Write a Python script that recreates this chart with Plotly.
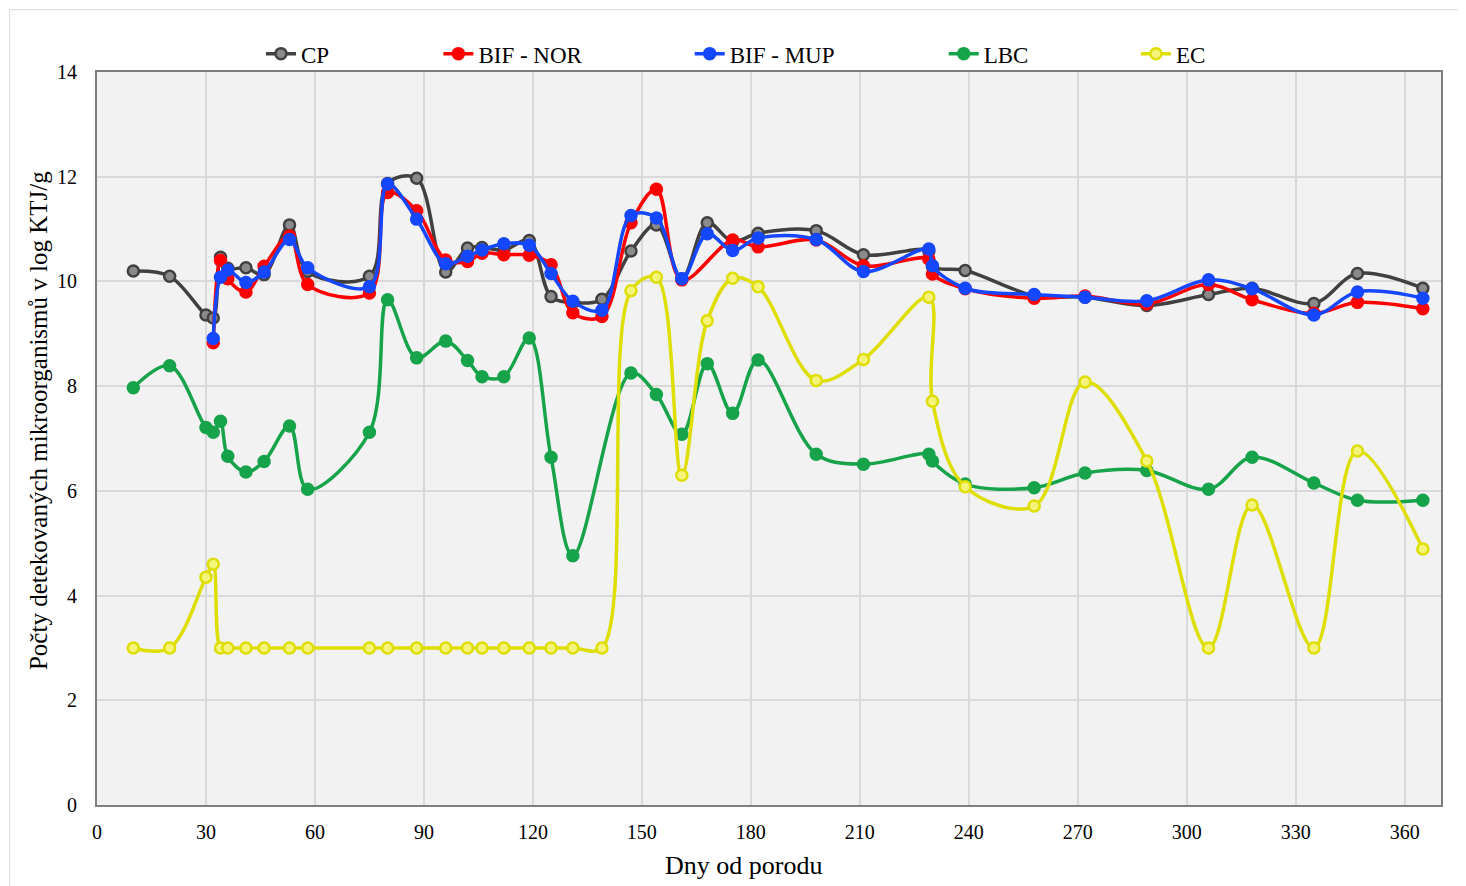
import plotly.graph_objects as go

days = [10, 20, 30, 32, 34, 36, 41, 46, 53, 58, 75, 80, 88, 96, 102, 106, 112, 119, 125, 131,
        139, 147, 154, 161, 168, 175, 182, 198, 211, 229, 230, 239, 258, 272, 289, 306, 318,
        335, 347, 365]

cp = [10.2, 10.1, 9.36, 9.3, 10.46, 10.25, 10.26, 10.13, 11.08, 10.19, 10.1, 11.87, 11.97, 10.18,
      10.64, 10.65, 10.6, 10.78, 9.71, 9.6, 9.66, 10.58, 11.08, 10.05, 11.12, 10.76, 10.92,
      10.97, 10.51, 10.58, 10.28, 10.21, 9.73, 9.7, 9.54, 9.75, 9.87, 9.58, 10.15, 9.87]

bif_nor = [None, None, None, 8.83, 10.4, 10.05, 9.8, 10.29, 10.87, 9.94, 9.78, 11.7, 11.35, 10.41,
           10.38, 10.54, 10.51, 10.5, 10.32, 9.4, 9.33, 11.12, 11.76, 10.03, None, 10.79, 10.66,
           10.79, 10.3, 10.43, 10.14, 9.86, 9.68, 9.72, 9.57, 9.94, 9.65, 9.39, 9.6, 9.48]

bif_mup = [None, None, None, 8.91, 10.08, 10.22, 9.98, 10.18, 10.8, 10.26, 9.9, 11.86, 11.19, 10.34,
           10.48, 10.6, 10.72, 10.69, 10.15, 9.62, 9.45, 11.26, 11.21, 10.05, 10.91, 10.59, 10.83,
           10.8, 10.19, 10.62, 10.3, 9.87, 9.75, 9.7, 9.63, 10.03, 9.86, 9.36, 9.8, 9.68]

lbc = [7.97, 8.39, 7.21, 7.12, 7.33, 6.66, 6.36, 6.56, 7.24, 6.03, 7.12, 9.65, 8.54, 8.86,
       8.49, 8.18, 8.18, 8.92, 6.64, 4.76, None, 8.25, 7.84, 7.08, 8.43, 7.48, 8.5,
       6.7, 6.51, 6.7, 6.57, 6.13, 6.06, 6.34, 6.39, 6.03, 6.64, 6.15, 5.82, 5.82]

ec = [3.0, 3.0, 4.35, 4.6, 3.0, 3.0, 3.0, 3.0, 3.0, 3.0, 3.0, 3.0, 3.0, 3.0,
      3.0, 3.0, 3.0, 3.0, 3.0, 3.0, 3.0, 9.82, 10.08, 6.3, 9.25, 10.06, 9.9,
      8.11, 8.51, 9.7, 7.71, 6.08, 5.71, 8.08, 6.57, 3.0, 5.73, 3.0, 6.76, 4.89]

series = [
    ("CP", cp, "#404040", "#8a8a8a"),
    ("BIF - NOR", bif_nor, "#ff0000", "#ff0000"),
    ("BIF - MUP", bif_mup, "#1447ff", "#1447ff"),
    ("LBC", lbc, "#16a34a", "#16a34a"),
    ("EC", ec, "#dede00", "#f4f47a"),
]
legend_x = [0.122, 0.254, 0.441, 0.630, 0.773]

font_family = "Liberation Serif, Times New Roman, serif"

fig = go.Figure()
legend_layout = {}
for i, ((name, vals, col, fill), lx) in enumerate(zip(series, legend_x)):
    lname = "legend" if i == 0 else f"legend{i + 1}"
    fig.add_trace(go.Scatter(
        x=days, y=vals, name=name, mode="lines+markers", connectgaps=True, legend=lname,
        line=dict(color=col, width=3.5, shape="spline", smoothing=1.0),
        marker=dict(symbol="circle", size=11, color=fill, line=dict(color=col, width=2.5)),
    ))
    legend_layout[lname] = dict(
        orientation="h", x=lx, xanchor="left", y=1.025, yanchor="middle",
        font=dict(size=23, family=font_family), bgcolor="rgba(0,0,0,0)", itemwidth=30,
    )

fig.update_layout(
    width=1466, height=886,
    margin=dict(l=89, r=33, t=64, b=89, autoexpand=False),
    paper_bgcolor="white",
    plot_bgcolor="#f2f2f2",
    font=dict(family=font_family, size=18, color="black"),
    showlegend=True,
    xaxis=dict(range=[0, 370], dtick=30, tick0=0, showgrid=True, gridcolor="#d9d9d9", gridwidth=1.5,
               zeroline=False, showline=True, linecolor="#7f7f7f", linewidth=2, mirror=True,
               ticks="", ticklabelstandoff=8, tickfont=dict(size=20), automargin=False),
    yaxis=dict(range=[0, 14], dtick=2, tick0=0, showgrid=True, gridcolor="#d9d9d9", gridwidth=1.5,
               zeroline=False, showline=True, linecolor="#7f7f7f", linewidth=2, mirror=True,
               ticks="", ticklabelstandoff=14, tickfont=dict(size=20), automargin=False),
    annotations=[
        dict(text="Dny od porodu", xref="paper", yref="paper", x=0.481, y=-0.082,
             xanchor="center", yanchor="middle", showarrow=False,
             font=dict(size=26, family=font_family)),
        dict(text="Počty detekovaných mikroorganismů v log KTJ/g", xref="paper", yref="paper",
             x=-0.044, y=0.525, xanchor="center", yanchor="middle", textangle=-90,
             showarrow=False, font=dict(size=25, family=font_family)),
    ],
    shapes=[
        dict(type="line", xref="paper", yref="paper", x0=-0.065, x1=1.1, y0=1.085, y1=1.085,
             line=dict(color="#d9d9d9", width=1)),
        dict(type="line", xref="paper", yref="paper", x0=-0.065, x1=-0.065, y0=-0.2, y1=1.085,
             line=dict(color="#d9d9d9", width=1)),
    ],
    **legend_layout,
)

fig.write_html("out.html")
